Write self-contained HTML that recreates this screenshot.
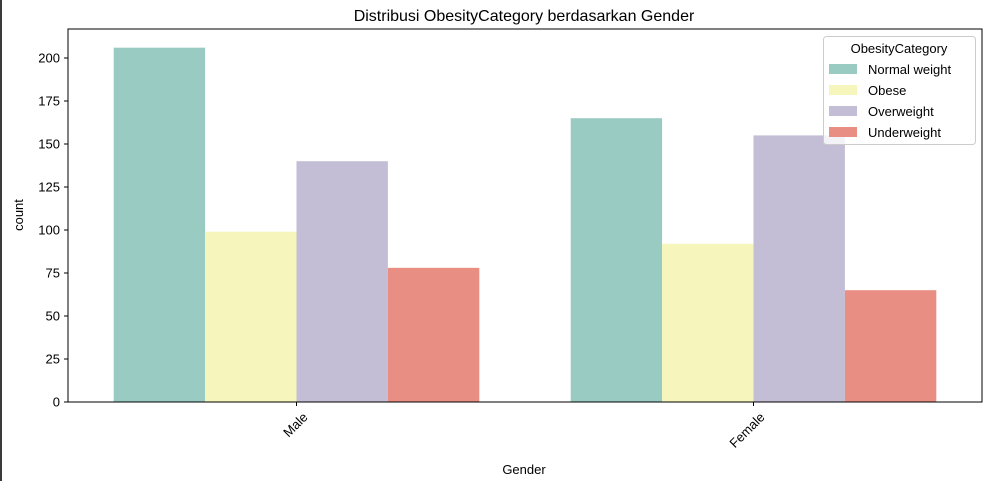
<!DOCTYPE html>
<html><head><meta charset="utf-8"><style>
body{margin:0;background:#fff;}
svg{display:block;font-family:"Liberation Sans","DejaVu Sans",sans-serif;}
</style></head><body>
<svg id="chart" width="988" height="481">
<rect x="0" y="0" width="2" height="481" fill="#3a3a3a"/>
<text x="524" y="21" font-size="16" text-anchor="middle" fill="#000">Distribusi ObesityCategory berdasarkan Gender</text>
<g id="bars"></g>
<g id="axes"></g>
<text x="524" y="474" font-size="13" text-anchor="middle">Gender</text>
<text transform="translate(23,215) rotate(-90)" font-size="13" text-anchor="middle">count</text>
<g id="legend">
<rect x="823.5" y="36.5" width="152" height="108" rx="3" fill="#fff" fill-opacity="0.8" stroke="#ccc"/>
<text x="899" y="53" font-size="13" text-anchor="middle">ObesityCategory</text>
</g>
</svg>
<script>
const categories=["Male","Female"];
const series=["Normal weight","Obese","Overweight","Underweight"];
const colors=["#99cbc2","#f6f6bc","#c3bed6","#e98e82"];
const normalWeight=[206,165];
const obese=[99,92];
const overweight=[140,155];
const underweight=[78,65];
const yTicks=[0,25,50,75,100,125,150,175,200];
const values=[normalWeight,obese,overweight,underweight];
const NS="http://www.w3.org/2000/svg";
const L=68,R=982,T=29,B=402;
const yScale=v=>B-v*1.72;
const band=(R-L)/categories.length;
const xCenter=i=>L+band*(i+0.5);
const bw=band*0.8/series.length;
function mk(t,a,p){const e=document.createElementNS(NS,t);for(const k in a)e.setAttribute(k,a[k]);p.appendChild(e);return e;}
const bars=document.getElementById('bars'),axes=document.getElementById('axes'),leg=document.getElementById('legend');
values.forEach((arr,s)=>arr.forEach((v,i)=>{
 const x=xCenter(i)-band*0.4+s*bw;
 const r=mk('rect',{x:x,y:yScale(v),width:bw,height:B-yScale(v),fill:colors[s]},bars);
 
 
}));
const frame=mk('rect',{x:L,y:T,width:R-L,height:B-T,fill:'none',stroke:'#000','stroke-width':1},axes);


yTicks.forEach(t=>{
 const y=yScale(t);
 mk('line',{x1:L-4,x2:L,y1:y,y2:y,stroke:'#000'},axes);
 const tx=mk('text',{x:L-8,y:y+4.5,'font-size':13,'text-anchor':'end'},axes);tx.textContent=t;
 
 
});
categories.forEach((c,i)=>{
 const x=xCenter(i);
 mk('line',{x1:x,x2:x,y1:B,y2:B+4,stroke:'#000'},axes);
 const tx=mk('text',{transform:`translate(${x+12},${B+16}) rotate(-45)`,'font-size':13,'text-anchor':'end'},axes);tx.textContent=c;
 
 
});
series.forEach((s,k)=>{
 const y=64+k*21;
 const r=mk('rect',{x:829,y:y,width:28,height:10,fill:colors[k]},leg);
 
 
 const tx=mk('text',{x:868,y:y+10,'font-size':13},leg);tx.textContent=s;
 
 
});
</script>
</body></html>
